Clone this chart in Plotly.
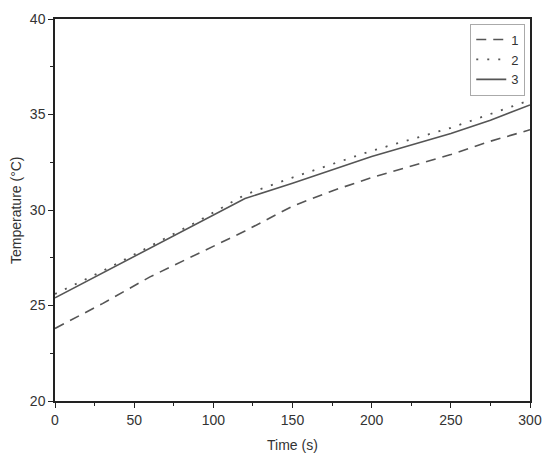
import plotly.graph_objects as go

# time points and temperatures
time_1 = [0, 30, 60, 90, 120, 150, 175, 200, 225, 250, 275, 300]
temp_1 = [23.8, 25.1, 26.5, 27.7, 28.9, 30.2, 31.0, 31.7, 32.3, 32.9, 33.6, 34.2]

time_2 = [0, 30, 60, 90, 120, 150, 200, 250, 300]
temp_2 = [25.6, 26.8, 28.1, 29.4, 30.8, 31.7, 33.1, 34.3, 35.75]

time_3 = [0, 30, 60, 90, 120, 150, 200, 250, 275, 300]
temp_3 = [25.4, 26.7, 28.0, 29.3, 30.6, 31.4, 32.8, 34.0, 34.7, 35.5]

names = ['1', '2', '3']

line_col = '#555555'
axis_col = '#222222'
text_col = '#333333'
font_fam = 'Liberation Sans, Arial, sans-serif'

fig = go.Figure()
fig.add_trace(go.Scatter(x=time_1, y=temp_1, name=names[0], mode='lines',
                         line=dict(color=line_col, width=1.6, dash='10px,7px')))
fig.add_trace(go.Scatter(x=time_2, y=temp_2, name=names[1], mode='lines',
                         line=dict(color=line_col, width=1.8, dash='2px,9px')))
fig.add_trace(go.Scatter(x=time_3, y=temp_3, name=names[2], mode='lines',
                         line=dict(color=line_col, width=1.6)))

axis_common = dict(showline=True, linecolor=axis_col, linewidth=1.5, mirror=True,
                   ticks='outside', ticklen=5, tickwidth=1.2, tickcolor=axis_col,
                   showgrid=False, zeroline=False, automargin=False,
                   tickfont=dict(size=14, color=text_col, family=font_fam))

fig.update_xaxes(range=[0, 300], tick0=0, dtick=50,
                 minor=dict(dtick=25, ticks='outside', ticklen=3, tickcolor=axis_col),
                 **axis_common)
fig.update_yaxes(range=[20, 40], tick0=20, dtick=5,
                 minor=dict(dtick=2.5, ticks='outside', ticklen=3, tickcolor=axis_col),
                 **axis_common)

# axis titles as annotations so they sit where the reference has them
title_font = dict(size=14, color=text_col, family=font_fam)
fig.add_annotation(text='Time (s)', xref='paper', yref='paper', x=0.5, y=0,
                   xanchor='center', yanchor='middle', yshift=-44,
                   showarrow=False, font=title_font)
fig.add_annotation(text='Temperature (°C)', xref='paper', yref='paper', x=0, y=0.5,
                   xanchor='center', yanchor='middle', xshift=-39, textangle=-90,
                   showarrow=False, font=title_font)

# page body has an 8px margin, so the figure is shrunk and shifted to compensate
fig.update_layout(width=542, height=453,
                  margin=dict(l=47, r=20, t=11, b=60),
                  paper_bgcolor='white', plot_bgcolor='white',
                  font=dict(family=font_fam, color=text_col),
                  legend=dict(x=0.99, y=0.988, xanchor='right', yanchor='top',
                              bordercolor='#aaaaaa', borderwidth=1,
                              bgcolor='white', tracegroupgap=0, itemwidth=30,
                              font=dict(size=13, color=text_col, family=font_fam)))

fig.write_html("out.html")
